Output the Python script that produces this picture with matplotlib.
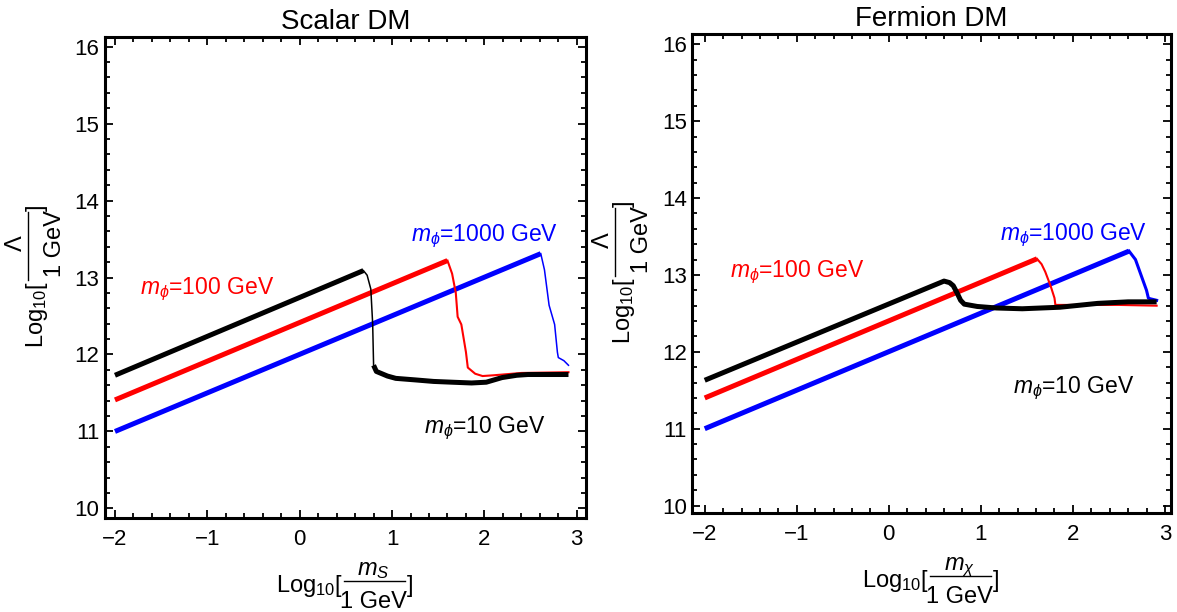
import matplotlib
matplotlib.use("Agg")
import matplotlib.pyplot as plt
from matplotlib.lines import Line2D
from matplotlib.ticker import MultipleLocator
from matplotlib.transforms import IdentityTransform

plt.rcParams["font.family"] = ["Liberation Sans", "DejaVu Sans"]
plt.rcParams["mathtext.fontset"] = "custom"
plt.rcParams["mathtext.rm"] = "Liberation Sans"
plt.rcParams["mathtext.it"] = "Liberation Sans:italic"
plt.rcParams["mathtext.bf"] = "Liberation Sans:bold"

# ---------------------------------------------------------------------------
# Data (log10 m_DM, log10 Lambda)
# ---------------------------------------------------------------------------

# Scalar DM
s_black_rise_x = [-2.0, 0.69]
s_black_rise_y = [11.73, 13.09]
s_black_drop_x = [0.69, 0.73, 0.77, 0.79, 0.80, 0.83]
s_black_drop_y = [13.09, 13.03, 12.85, 12.40, 11.86, 11.78]
s_black_tail_x = [0.80, 0.83, 0.95, 1.04, 1.25, 1.45, 1.65, 1.86, 2.02, 2.19, 2.35, 2.47, 2.70, 2.91]
s_black_tail_y = [11.86, 11.78, 11.72, 11.69, 11.67, 11.65, 11.64, 11.63, 11.64, 11.70, 11.73, 11.74, 11.74, 11.74]

s_red_rise_x = [-2.0, 1.60]
s_red_rise_y = [11.41, 13.22]
s_red_drop_x = [1.60, 1.65, 1.69, 1.71, 1.75, 1.80, 1.82, 1.90, 1.98, 2.10, 2.40, 2.91]
s_red_drop_y = [13.22, 13.05, 12.80, 12.49, 12.39, 12.03, 11.83, 11.75, 11.72, 11.73, 11.76, 11.77]

s_blue_rise_x = [-2.0, 2.61]
s_blue_rise_y = [11.00, 13.31]
s_blue_drop_x = [2.61, 2.65, 2.70, 2.76, 2.79, 2.80, 2.86, 2.91]
s_blue_drop_y = [13.31, 13.10, 12.64, 12.39, 12.03, 11.96, 11.92, 11.86]

# Fermion DM
f_black_x = [-2.0, 0.60, 0.66, 0.70, 0.74, 0.78, 0.82, 0.96, 1.17, 1.45, 1.86, 2.27, 2.60, 2.91]
f_black_y = [11.63, 12.92, 12.90, 12.86, 12.77, 12.67, 12.62, 12.59, 12.57, 12.56, 12.58, 12.63, 12.65, 12.65]

f_red_rise_x = [-2.0, 1.61]
f_red_rise_y = [11.40, 13.21]
f_red_drop_x = [1.61, 1.66, 1.70, 1.76, 1.80, 1.81, 2.07, 2.50, 2.91]
f_red_drop_y = [13.21, 13.14, 13.04, 12.85, 12.70, 12.61, 12.61, 12.61, 12.60]

f_blue_rise_x = [-2.0, 2.61]
f_blue_rise_y = [11.00, 13.31]
f_blue_drop_x = [2.61, 2.68, 2.74, 2.80, 2.82, 2.84, 2.91]
f_blue_drop_y = [13.31, 13.20, 13.00, 12.80, 12.70, 12.69, 12.67]

labels = [r"$m_\phi$=10 GeV", r"$m_\phi$=100 GeV", r"$m_\phi$=1000 GeV"]
s_label_pos = [(1.35, 11.04), (-1.73, 12.85), (1.20, 13.53)]
f_label_pos = [(1.35, 11.53), (-1.73, 13.04), (1.21, 13.52)]

THICK = 3.6
THIN = 1.1
COLORS = ["black", "#ff0000", "#0000ff"]
LABEL_FS = 17


def style_axes(ax, xlim, ylim, title):
    ax.set_xlim(*xlim)
    ax.set_ylim(*ylim)
    ax.xaxis.set_major_locator(MultipleLocator(1))
    ax.xaxis.set_minor_locator(MultipleLocator(0.2))
    ax.yaxis.set_major_locator(MultipleLocator(1))
    ax.yaxis.set_minor_locator(MultipleLocator(0.2))
    ax.tick_params(which="both", direction="in", top=True, right=True,
                   labelsize=16, width=1.3)
    ax.tick_params(axis="x", pad=8)
    ax.tick_params(axis="y", pad=4)
    ax.tick_params(which="major", length=6)
    ax.tick_params(which="minor", length=3.5)
    for sp in ax.spines.values():
        sp.set_linewidth(2.2)
    ax.set_title(title, fontsize=20, pad=6)


def frac_xlabel(fig, ax, num):
    # Mathematica-style Log10[num / 1 GeV] under the x axis (pixel offsets)
    bx, by = ax.transAxes.transform((0.5, 0.0))
    kw = dict(transform=IdentityTransform(), fontsize=LABEL_FS)
    fig.text(bx - 3, by - 74, r"Log$_{10}$[", ha="right", va="baseline", **kw)
    fig.text(bx + 28, by - 57, num, ha="center", va="baseline", **kw)
    fig.text(bx + 28, by - 90, "1 GeV", ha="center", va="baseline", **kw)
    fig.text(bx + 61, by - 74, "]", ha="left", va="baseline", **kw)
    fig.add_artist(Line2D([bx - 2, bx + 59], [by - 63, by - 63], color="black",
                          lw=1.0, transform=IdentityTransform()))


def frac_ylabel(fig, ax):
    # rotated Log10[Lambda / 1 GeV] left of the y axis (pixel offsets)
    bx, by = ax.transAxes.transform((0.0, 0.5))
    kw = dict(transform=IdentityTransform(), fontsize=LABEL_FS, rotation=90,
              rotation_mode="anchor")
    fig.text(bx - 62, by - 3, r"Log$_{10}$[", ha="right", va="baseline", **kw)
    fig.text(bx - 83, by + 34, r"$\Lambda$", ha="center", va="baseline", **kw)
    fig.text(bx - 44, by + 34, "1 GeV", ha="center", va="baseline", **kw)
    fig.text(bx - 62, by + 67, "]", ha="left", va="baseline", **kw)
    fig.add_artist(Line2D([bx - 77, bx - 77], [by - 2, by + 66], color="black",
                          lw=1.0, transform=IdentityTransform()))


fig = plt.figure(figsize=(11.77, 6.12), dpi=100)
ax1 = fig.add_axes([0.0892, 0.1541, 0.4087, 0.7849])
ax2 = fig.add_axes([0.5882, 0.1613, 0.4067, 0.7827])

# Scalar panel
ax1.plot(s_blue_rise_x, s_blue_rise_y, color=COLORS[2], lw=THICK, solid_capstyle="butt")
ax1.plot(s_blue_drop_x, s_blue_drop_y, color=COLORS[2], lw=THIN)
ax1.plot(s_red_rise_x, s_red_rise_y, color=COLORS[1], lw=THICK, solid_capstyle="butt")
ax1.plot(s_red_drop_x, s_red_drop_y, color=COLORS[1], lw=THIN + 0.4)
ax1.plot(s_black_rise_x, s_black_rise_y, color=COLORS[0], lw=THICK, solid_capstyle="butt")
ax1.plot(s_black_drop_x, s_black_drop_y, color=COLORS[0], lw=THIN)
ax1.plot(s_black_tail_x, s_black_tail_y, color=COLORS[0], lw=THICK, solid_capstyle="butt")
for lab, (x, y), c in zip(labels, s_label_pos, COLORS):
    ax1.text(x, y, lab, color=c, fontsize=16.5, va="center", ha="left")
style_axes(ax1, (-2.108, 3.10), (9.88, 16.12), "Scalar DM")

# Fermion panel
ax2.plot(f_blue_rise_x, f_blue_rise_y, color=COLORS[2], lw=THICK, solid_capstyle="butt")
ax2.plot(f_blue_drop_x, f_blue_drop_y, color=COLORS[2], lw=2.2)
ax2.plot(f_red_rise_x, f_red_rise_y, color=COLORS[1], lw=THICK, solid_capstyle="butt")
ax2.plot(f_red_drop_x, f_red_drop_y, color=COLORS[1], lw=THIN + 0.4)
ax2.plot(f_black_x, f_black_y, color=COLORS[0], lw=THICK, solid_capstyle="butt")
for lab, (x, y), c in zip(labels, f_label_pos, COLORS):
    ax2.text(x, y, lab, color=c, fontsize=16.5, va="center", ha="left")
style_axes(ax2, (-2.135, 3.066), (9.90, 16.13), "Fermion DM")

frac_xlabel(fig, ax1, r"$m_S$")
frac_xlabel(fig, ax2, r"$m_\chi$")
frac_ylabel(fig, ax1)
frac_ylabel(fig, ax2)

fig.savefig("out.png", dpi=100)
